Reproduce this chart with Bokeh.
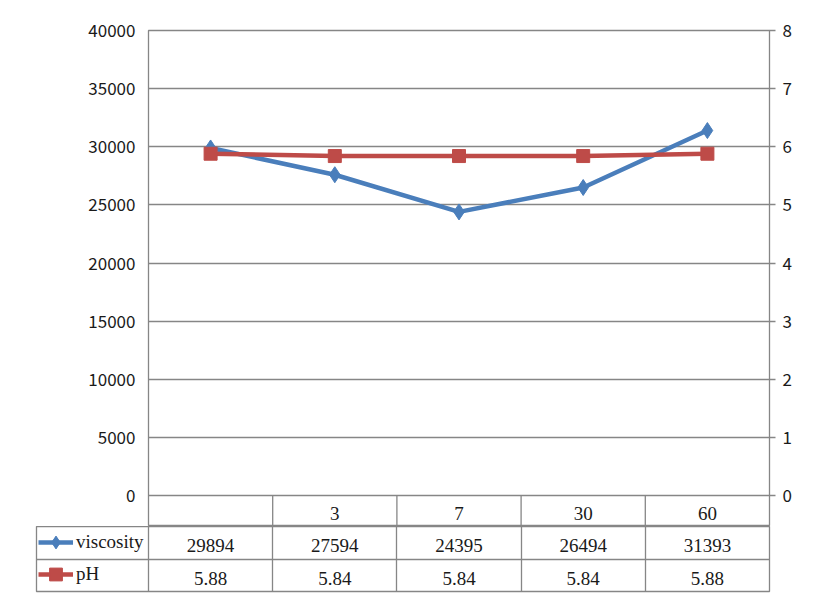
from bokeh.plotting import figure
from bokeh.layouts import column
from bokeh.models import (Range1d, LinearAxis, FixedTicker, Legend, LegendItem,
                          NumeralTickFormatter, Grid)
from bokeh.core.properties import value
from bokeh.embed import file_html
from bokeh.resources import INLINE

# ---- data ----
categories = ["", "3", "7", "30", "60"]
viscosity = [29894, 27594, 24395, 26494, 31393]
ph = [5.88, 5.84, 5.84, 5.84, 5.88]
visc_ticks = [0, 5000, 10000, 15000, 20000, 25000, 30000, 35000, 40000]
ph_ticks = [0, 1, 2, 3, 4, 5, 6, 7, 8]
row_labels = ["viscosity", "pH"]

# ---- layout constants (pixels) ----
W = 820
LEFT, RIGHT, TOP = 148, 51, 30
PLOT_H = 465      # chart area height
CAT_H = 31        # category row height
ROWS_H = 65       # two value rows
BOTTOM = 12
HEADER_W = 112    # row header column width
COL_W = (W - LEFT - RIGHT) / len(categories)

GRID = "#868686"
BLUE = "#4A7EBB"
RED = "#BE4B48"
TXT = "#1a1a1a"
AXIS_FONT = "Noto Sans CJK JP"
TABLE_FONT = "Liberation Serif"
tfont = value(TABLE_FONT)

n = len(categories)
xs = [i + 0.5 for i in range(n)]

# ================= chart (with category row) =================
p = figure(width=W, height=TOP + PLOT_H + CAT_H, output_backend="svg", toolbar_location=None,
           x_range=Range1d(0, n),
           y_range=Range1d(-visc_ticks[-1] * CAT_H / PLOT_H, visc_ticks[-1]),
           x_axis_type=None, y_axis_type=None, frame_align=False,
           min_border_left=LEFT, min_border_right=RIGHT,
           min_border_top=TOP, min_border_bottom=0)
p.background_fill_color = "white"
p.border_fill_color = "white"
p.outline_line_color = GRID
p.outline_line_width = 1.3

p.extra_y_ranges = {
    "ph": Range1d(-ph_ticks[-1] * CAT_H / PLOT_H, ph_ticks[-1]),
    "tbl": Range1d(0, (PLOT_H + CAT_H) / CAT_H),
}

yl = LinearAxis(ticker=FixedTicker(ticks=visc_ticks), formatter=NumeralTickFormatter(format="0"))
yl.axis_line_color = None
yl.major_tick_out = 0
yl.major_tick_in = 0
yl.minor_tick_line_color = None
yl.major_label_standoff = 13
yl.major_label_text_font = AXIS_FONT
yl.major_label_text_font_size = "17px"
yl.major_label_text_color = TXT
p.add_layout(yl, "left")

yr = LinearAxis(y_range_name="ph", ticker=FixedTicker(ticks=ph_ticks))
yr.axis_line_color = None
yr.major_tick_out = 6
yr.major_tick_in = 0
yr.major_tick_line_color = GRID
yr.major_tick_line_width = 1.3
yr.minor_tick_line_color = None
yr.major_label_standoff = 7
yr.major_label_text_font = AXIS_FONT
yr.major_label_text_font_size = "17px"
yr.major_label_text_color = TXT
p.add_layout(yr, "right")

p.add_layout(Grid(dimension=1, ticker=yl.ticker, grid_line_color=GRID, grid_line_width=1.3), "center")

# category row of the data table
p.segment(x0=list(range(1, n)), y0=0, x1=list(range(1, n)), y1=1,
          y_range_name="tbl", line_color=GRID, line_width=1.3)
p.text(x=xs, y=[0.5] * n, text=categories, y_range_name="tbl",
       text_align="center", text_baseline="middle", text_font=tfont,
       text_font_size="19px", text_color=TXT, y_offset=2)

# series
p.line(xs, viscosity, line_color=BLUE, line_width=4.5)
p.scatter(xs, viscosity, marker="diamond", size=16, fill_color=BLUE, line_color=BLUE)
p.line(xs, ph, y_range_name="ph", line_color=RED, line_width=4.5)
p.scatter(xs, ph, y_range_name="ph", marker="square", size=13, fill_color=RED, line_color=RED)

# ================= value rows of the data table =================
t = figure(width=W, height=ROWS_H + BOTTOM, output_backend="svg", toolbar_location=None,
           x_range=Range1d(-HEADER_W / COL_W, n), y_range=Range1d(0, 2),
           x_axis_type=None, y_axis_type=None, frame_align=False,
           min_border_left=LEFT - HEADER_W, min_border_right=RIGHT,
           min_border_top=0, min_border_bottom=BOTTOM)
t.background_fill_color = "white"
t.border_fill_color = "white"
t.outline_line_color = GRID
t.outline_line_width = 1.3
t.xgrid.visible = False
t.ygrid.visible = False

t.hspan(y=[1], line_color=GRID, line_width=1.3)
t.vspan(x=list(range(n)), line_color=GRID, line_width=1.3)
t.text(x=xs, y=[1.5] * n, text=[str(v) for v in viscosity],
       text_align="center", text_baseline="middle", text_font=tfont,
       text_font_size="19px", text_color=TXT, y_offset=3)
t.text(x=xs, y=[0.5] * n, text=["%.2f" % v for v in ph],
       text_align="center", text_baseline="middle", text_font=tfont,
       text_font_size="19px", text_color=TXT, y_offset=3)

# legend keys (series drawn off-frame here, only their keys show)
kl = t.line(xs, viscosity, line_color=BLUE, line_width=4.5)
km = t.scatter(xs, viscosity, marker="diamond", size=16, fill_color=BLUE, line_color=BLUE)
rl = t.line(xs, [v * 100 for v in ph], line_color=RED, line_width=4.5)
rm = t.scatter(xs, [v * 100 for v in ph], marker="square", size=13, fill_color=RED, line_color=RED)

legend = Legend(items=[LegendItem(label=row_labels[0], renderers=[kl, km]),
                       LegendItem(label=row_labels[1], renderers=[rl, rm])],
                location=(2, 1), orientation="vertical",
                glyph_width=35, glyph_height=32, label_height=32,
                label_standoff=3, spacing=0, padding=0, margin=0,
                border_line_color=None, background_fill_alpha=0,
                label_text_font=TABLE_FONT, label_text_font_size="19px",
                label_text_color=TXT)
t.add_layout(legend, "center")

layout = column(p, t, spacing=0)
open("out.html", "w").write(file_html(layout, INLINE))
